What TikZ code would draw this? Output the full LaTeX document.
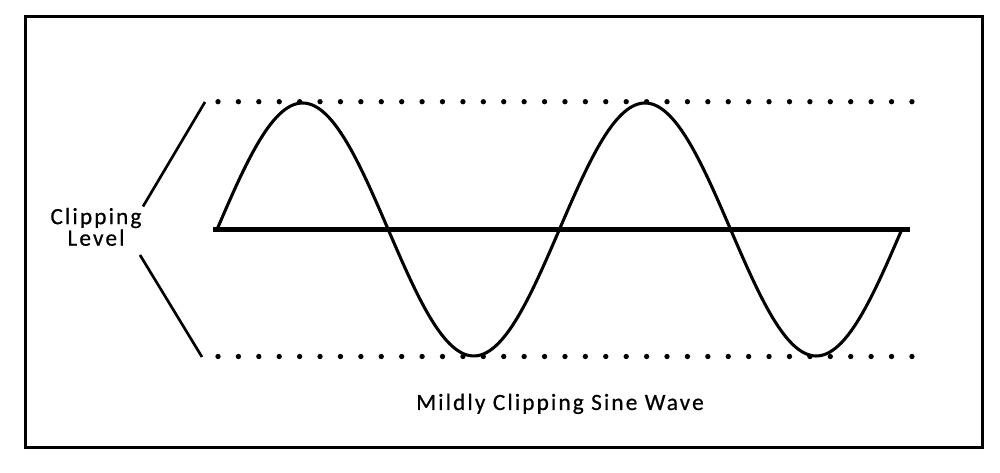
\documentclass[tikz,border=0pt]{standalone}
\usepackage{fontspec}
\setmainfont{Carlito}[LetterSpace=9,FakeBold=0.6]
\begin{document}
\begin{tikzpicture}[x=0.75pt,y=-0.75pt,
  lbl/.style={font=\fontsize{17.5pt}{13.3pt}\selectfont, inner sep=0pt, anchor=base, align=center},
  frame/.style={line width=2.25pt},
  leader/.style={line width=2pt},
  wave/.style={line width=2.3pt, line join=round},
  axisline/.style={line width=4.4pt},
  dotmark/.style={fill=black}]
\useasboundingbox (0,0) rectangle (1000,473);
\draw[frame] (25,17) rectangle (982,447.5);
% dotted clipping levels
\foreach \i in {0,...,34} {
  \fill[dotmark] ({218+\i*20.41},101.7) circle (2pt);
  \fill[dotmark] ({218+\i*20.41},356.5) circle (2pt);
}
% sine wave
\draw[wave] plot[domain=0:720, samples=240, smooth] ({217+\x*0.951111}, {229.5-126.5*sin(\x)});
% axis
\coordinate (axL) at (213,229.5);
\coordinate (axR) at (910,229.5);
\draw[axisline] (axL) -- (axR);
% labels
\node[lbl] (clip) at (96,245.7) {Clipping\\Level};
\node[lbl] (title) at (560,410) {Mildly Clipping Sine Wave};
% leaders
\coordinate (upA) at (205,102);
\coordinate (upB) at (143,206.5);
\coordinate (loA) at (140,255);
\coordinate (loB) at (202,357);
\draw[leader] (upB) -- (upA);
\draw[leader] (loA) -- (loB);
\end{tikzpicture}
\end{document}
